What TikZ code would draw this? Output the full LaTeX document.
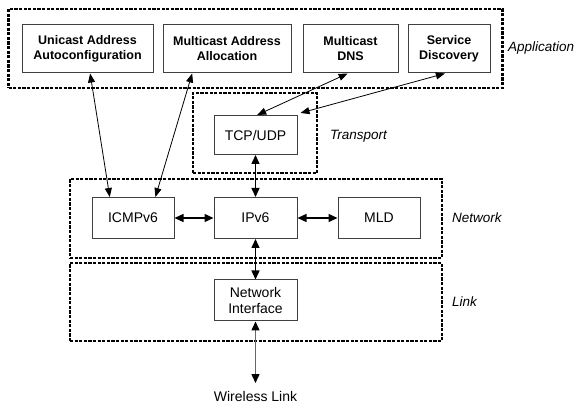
\documentclass[tikz,border=0pt]{standalone}
\usepackage{fontspec}
\setmainfont{Liberation Sans}
\usetikzlibrary{arrows.meta,calc}
\begin{document}
\begin{tikzpicture}[x=1pt,y=-1pt,
  layer/.style={draw=black,line width=2.9pt,dash pattern=on 3.2pt off 1.4pt},
  appbox/.style={draw=black!75,line width=1pt,fill=white,inner sep=0pt,align=center,font=\fontsize{12.5}{15}\selectfont\bfseries},
  plainbox/.style={draw=black!75,line width=1pt,fill=white,inner sep=0pt,align=center,font=\fontsize{14}{16.5}\selectfont},
  lbl/.style={anchor=west,inner sep=0pt,font=\fontsize{13.5}{16}\selectfont\itshape},
  thinarr/.style={{Triangle[length=9pt,width=7pt]}-{Triangle[length=9pt,width=7pt]},line width=0.8pt},
  thickarr/.style={{Triangle[length=9pt,width=8pt,color=black]}-{Triangle[length=9pt,width=8pt,color=black]},line width=1.4pt}]
\useasboundingbox (0,0) rectangle (581,403);
% layer frames
\node[layer,minimum width=494pt,minimum height=79pt,inner sep=0pt] (applayer) at (255.5,48.5) {};
\node[layer,minimum width=124pt,minimum height=80pt,inner sep=0pt] (translayer) at (255,133) {};
\node[layer,minimum width=372pt,minimum height=79pt,inner sep=0pt] (netlayer) at (256,218.5) {};
\node[layer,minimum width=372pt,minimum height=78pt,inner sep=0pt] (linklayer) at (256,302) {};
% application boxes
\node[appbox,minimum width=131pt,minimum height=48pt] (uac) at (87.5,49) {Unicast Address\\Autoconfiguration};
\node[appbox,minimum width=128pt,minimum height=48pt] (maa) at (227,49) {Multicast Address\\Allocation};
\node[appbox,minimum width=95pt,minimum height=48pt] (mdns) at (350.5,49) {Multicast\\DNS};
\node[appbox,minimum width=82pt,minimum height=48pt] (sd) at (449,49) {Service\\Discovery};
\node[lbl] (applbl) at (508,48) {Application};
% transport
\node[plainbox,minimum width=83pt,minimum height=39pt] (tcp) at (255.5,135) {TCP/UDP};
\node[lbl] (translbl) at (330,136) {Transport};
% network
\node[plainbox,minimum width=82pt,minimum height=41pt] (icmp) at (133,218) {ICMPv6};
\node[plainbox,minimum width=83pt,minimum height=41pt] (ipv6) at (255.5,218) {IPv6};
\node[plainbox,minimum width=82pt,minimum height=41pt] (mld) at (379,218) {MLD};
\node[lbl] (netlbl) at (452,218) {Network};
% link
\node[plainbox,minimum width=83pt,minimum height=41pt] (netif) at (255.5,300.5) {Network\\Interface};
\node[lbl] (linklbl) at (452,302) {Link};
\node[inner sep=0pt,font=\fontsize{14}{16.5}\selectfont] (wl) at (255.5,396) {Wireless Link};
\coordinate (wltop) at (255.5,383);
% connectors
\draw[thinarr] ($(uac.south west)!0.52!(uac.south east)$) -- ($(icmp.north west)!0.22!(icmp.north east)$);
\draw[thinarr] ($(maa.south west)!0.23!(maa.south east)$) -- ($(icmp.north west)!0.77!(icmp.north east)$);
\draw[thinarr] ($(mdns.south west)!0.47!(mdns.south east)$) -- ($(tcp.north west)!0.52!(tcp.north east)$);
\draw[thinarr] ($(sd.south west)!0.45!(sd.south east)$) -- ($(tcp.north east)+(3,-2)$);
\draw[thickarr] (tcp.south) -- (ipv6.north);
\draw[thickarr] (ipv6.south) -- (netif.north);
\draw[thickarr,draw=black!60] (netif.south) -- (wltop);
\draw[thickarr] (icmp.east) -- (ipv6.west);
\draw[thickarr] (ipv6.east) -- (mld.west);
\end{tikzpicture}
\end{document}
